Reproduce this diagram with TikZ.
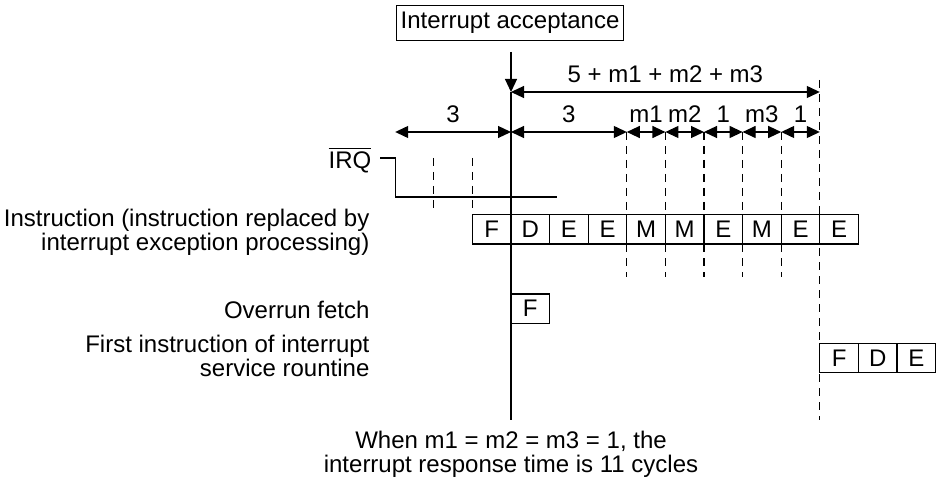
\documentclass[tikz,border=0pt]{standalone}
\usepackage{fontspec}
\setmainfont{Liberation Sans}
\usetikzlibrary{arrows.meta, positioning, calc}

\begin{document}
\begin{tikzpicture}[x=0.5pt, y=-0.5pt, line width=0.6pt,
      every node/.style={font=\fontsize{12}{11.8}\selectfont},
      cyc/.style={draw, minimum width=19.3pt, minimum height=14.6pt, inner sep=0pt},
      dimarrow/.style={{Triangle[length=6.5pt,width=6pt]}-{Triangle[length=6.5pt,width=6pt]}},
      tick/.style={dash pattern=on 4pt off 3pt},
      lbl/.style={left, align=right, inner sep=0pt}]
      \useasboundingbox (0,0) rectangle (936,486);
      % cycle grid: x = 511 + k*38.6
      \foreach \k in {-3,...,10} \coordinate (d\k) at ({511+\k*38.6},132);
      \node[draw, inner xsep=2pt, inner ysep=3.5pt] (accept) at (510,23) {Interrupt acceptance};
      \coordinate (vtop) at (511,52);
      \coordinate (vtip) at (511,92);
      \coordinate (vbot) at (511,420);
      \draw[-{Triangle[length=6.5pt,width=6pt]}] (vtop) -- (vtip);
      \draw (vtip) -- (vbot);
      % total
      \coordinate (tend) at (d8 |- vtip);
      \draw[dimarrow] (vtip) -- node[above=1pt] {5 + m1 + m2 + m3} (tend);
      % cycle counts
      \foreach \a/\b/\t in {-3/0/3, 0/3/3, 3/4/m1, 4/5/m2, 5/6/1, 6/7/m3, 7/8/1}
        \draw[dimarrow] (d\a) -- node[above=1pt] {\t} (d\b);
      \foreach \k in {3,...,7} \draw[tick] (d\k) -- ++(0,145);
      \coordinate (send) at (d8 |- vbot);
      \draw[tick] ($(d8)+(0,-52)$) -- (send);
      % IRQ
      \node[lbl] (irq) at (372,160) {$\overline{\mbox{IRQ}}$};
      \coordinate (irqhi) at (380,158);
      \coordinate (irqlo) at (557,197);
      \draw (irqhi) -- (d-3 |- irqhi) -- (d-3 |- irqlo) -- (irqlo);
      \foreach \k in {-2,-1} \draw[tick] ($(d\k)+(0,26)$) -- ++(0,52);
      % instruction rows
      \foreach \t [count=\i from -1] in {F,D,E,E,M,M,E,M,E,E}
        \node[cyc] (ins\i) at ({511+(\i+0.5)*38.6},229.5) {\t};
      \node[cyc] (ovr) at ({511+0.5*38.6},308.5) {F};
      \foreach \t [count=\i from 8] in {F,D,E}
        \node[cyc] (isr\i) at ({511+(\i+0.5)*38.6},358) {\t};
      \node[lbl] (linstr) at (370,232.5) {Instruction (instruction replaced by\\interrupt exception processing)};
      \node[lbl] (lovr) at (370,310) {Overrun fetch};
      \node[lbl] (lisr) at (370,356) {First instruction of interrupt\\service rountine};
      \node[align=center, inner sep=0pt] (note) at (511,454) {When m1 = m2 = m3 = 1, the\\interrupt response time is 11 cycles};
    \end{tikzpicture}
\end{document}
